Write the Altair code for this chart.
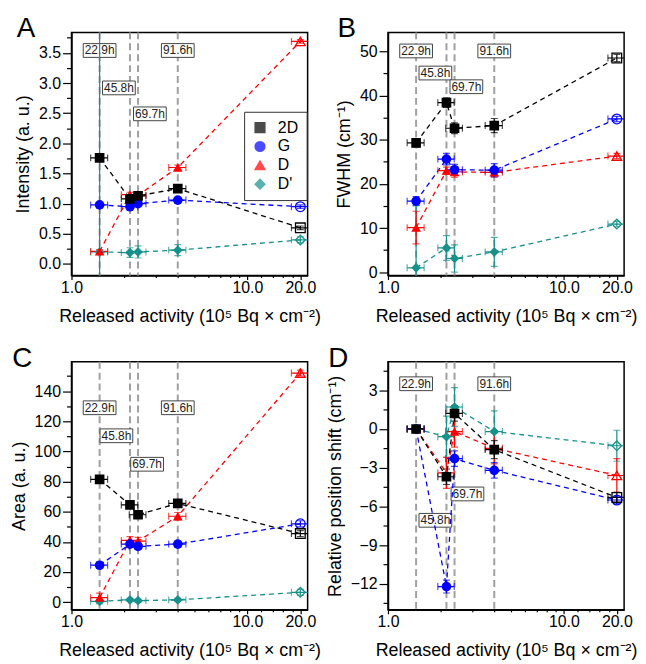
import altair as alt
import pandas as pd

# ---------------- data ----------------
series_names = ["2D", "G", "D", "D'"]
series_colors = ["#000000", "#0000ff", "#ff0000", "#17918c"]
series_shapes = ["square", "circle", "triangle-up", "diamond"]

activity = [1.445, 2.15, 2.39, 4.02, 20.0]          # 10^5 Bq/cm2
activity_err = [0.16, 0.23, 0.26, 0.45, 2.2]
open_marker = [False, False, False, False, True]

line_positions = [1.445, 2.15, 2.39, 4.02]
line_labels = ["22.9h", "45.8h", "69.7h", "91.6h"]

# Panel A: intensity
intensity = {"2D": [1.76, 1.08, 1.13, 1.25, 0.60],
             "G": [0.98, 0.95, 1.00, 1.06, 0.95],
             "D": [0.21, 1.15, 1.14, 1.60, 3.69],
             "D'": [0.20, 0.19, 0.20, 0.23, 0.40]}
intensity_err = {"2D": [0.03, 0.04, 0.03, 0.03, 0.03],
                 "G": [0.02, 0.03, 0.03, 0.03, 0.03],
                 "D": [0.03, 0.04, 0.03, 0.04, 0.03],
                 "D'": [5.0, 0.08, 0.10, 0.09, 0.05]}
intensity_label_x = [1.445, 1.86, 2.79, 4.02]
intensity_label_y = [3.54, 2.92, 2.49, 3.54]

# Panel B: FWHM
fwhm = {"2D": [29.3, 38.4, 32.6, 33.2, 48.5],
        "G": [16.1, 25.6, 23.2, 23.1, 34.7],
        "D": [10.1, 23.0, 22.7, 22.6, 26.3],
        "D'": [1.0, 5.5, 3.1, 4.6, 10.9]}
fwhm_err = {"2D": [0.9, 1.1, 1.2, 1.6, 0.8],
            "G": [1.0, 1.3, 1.2, 1.5, 0.6],
            "D": [3.7, 0.8, 1.2, 1.0, 0.6],
            "D'": [14.0, 2.8, 3.1, 3.3, 0.6]}
fwhm_label_x = [1.445, 1.86, 2.79, 4.02]
fwhm_label_y = [50.1, 45.1, 42.0, 50.1]

# Panel C: area
area = {"2D": [81.5, 64.5, 58.0, 65.5, 45.5],
        "G": [24.5, 38.5, 37.0, 38.5, 52.0],
        "D": [3.0, 41.0, 40.5, 57.0, 152.0],
        "D'": [0.5, 1.5, 1.0, 1.5, 6.5]}
area_err = {"2D": [2.0, 2.0, 2.0, 2.0, 2.0],
            "G": [2.0, 2.0, 2.0, 2.0, 2.0],
            "D": [3.0, 2.5, 2.5, 2.5, 2.0],
            "D'": [1.5, 1.0, 1.0, 1.0, 2.0]}
area_label_x = [1.445, 1.80, 2.69, 4.02]
area_label_y = [129.0, 110.4, 91.5, 129.0]

# Panel D: relative position shift
shift = {"2D": [0.0, -3.7, 1.2, -1.6, -5.3],
         "G": [0.0, -12.2, -2.3, -3.2, -5.5],
         "D": [0.0, -3.4, -0.2, -1.5, -3.6],
         "D'": [0.0, -0.6, 1.7, -0.2, -1.3]}
shift_err = {"2D": [0.2, 0.6, 0.6, 0.7, 0.4],
             "G": [0.1, 0.5, 0.6, 0.6, 0.3],
             "D": [0.1, 1.2, 1.2, 1.2, 1.3],
             "D'": [0.1, 1.6, 1.5, 1.6, 1.2]}
shift_label_x = [1.445, 1.86, 2.83, 4.02]
shift_label_y = [3.5, -7.07, -5.03, 3.5]

FONT = "Liberation Sans"
X_TITLE = "Released activity (10\u2075 Bq \u00d7 cm\u207b\u00b2)"
XSCALE = alt.Scale(type="log", domain=[1, 22], nice=False)
X_TICKS = [1, 2, 3, 4, 5, 6, 7, 8, 9, 10, 12, 14, 16, 18, 20]
X_MAJOR_TEST = "indexof([1,10,20], datum.value) >= 0"
BOX_SHAPE = "M-1,-0.42L1,-0.42L1,0.42L-1,0.42Z"


def cond(test, a, b):
    return {"condition": {"test": test, "value": a}, "value": b}


def make_panel(letter, vals, errs, ytitle, ydomain, yticks, major, fmt,
               lab_x, lab_y, width, height, legend=False):
    rows = []
    for s in reversed(series_names):          # 2D drawn last (on top)
        for i in range(len(activity)):
            x = activity[i]
            xe = activity_err[i]
            y = vals[s][i]
            ye = errs[s][i]
            rows.append(dict(series=s, x=x, xlo=x - xe, xhi=x + xe, y=y,
                             ylo=y - ye, yhi=y + ye, open=open_marker[i], order=i))
    df = pd.DataFrame(rows)
    vdf = pd.DataFrame({"x": line_positions})
    ldf = pd.DataFrame({"x": lab_x, "y": lab_y, "text": line_labels})

    y_major_test = f"abs(datum.value % {major}) < 1e-9"
    xaxis = alt.Axis(title=X_TITLE, values=X_TICKS, labelOverlap=False,
                     labelExpr=f"{X_MAJOR_TEST} ? format(datum.value, '.1f') : ''",
                     labelFontSize=cond(X_MAJOR_TEST, 16, 0),
                     tickSize=cond(X_MAJOR_TEST, 4, 2), labelPadding=0, titlePadding=12)
    yaxis = alt.Axis(title=ytitle, values=yticks, labelOverlap=False,
                     labelExpr=f"{y_major_test} ? format(datum.value, '{fmt}') : ''",
                     labelFontSize=cond(y_major_test, 16, 0),
                     tickSize=cond(y_major_test, 9, 5), labelPadding=2, titlePadding=6)
    yscale = alt.Scale(domain=ydomain, nice=False, zero=False)
    cscale = alt.Scale(domain=series_names, range=series_colors)
    sscale = alt.Scale(domain=series_names, range=series_shapes)

    X = lambda f: alt.X(f, scale=XSCALE, axis=xaxis)
    Y = lambda f: alt.Y(f, scale=yscale, axis=yaxis)

    if legend:
        leg = alt.Legend(orient="none", legendX=174, legendY=80, title=None,
                         strokeColor="#333333", fillColor="white", padding=8,
                         labelFontSize=16, labelFont=FONT, symbolSize=95,
                         rowPadding=3, labelOffset=10, labelColor="black")
    else:
        leg = None
    color = alt.Color("series:N", scale=cscale, legend=leg)
    shape = alt.Shape("series:N", scale=sscale, legend=leg)

    base = alt.Chart(df)

    vlines = alt.Chart(vdf).mark_rule(color="#a0a0a0", strokeWidth=2, strokeDash=[7, 4]).encode(
        x=X("x:Q"))

    boxes = alt.Chart(ldf).mark_point(shape=BOX_SHAPE, size=33 * 33, filled=True, fill="white",
                                      stroke="#444444", strokeWidth=1, opacity=1).encode(
        x=X("x:Q"), y=Y("y:Q"))
    texts = alt.Chart(ldf).mark_text(fontSize=12, font=FONT, color="#222222").encode(
        x=X("x:Q"), y=Y("y:Q"), text="text:N")

    lines = base.mark_line(strokeDash=[5, 4], strokeWidth=1.3, clip=True).encode(
        x=X("x:Q"), y=Y("y:Q"), color=color, detail="series:N", order="order:Q")

    xerr = base.mark_rule(strokeWidth=1.2, clip=True).encode(
        x=X("xlo:Q"), x2="xhi:Q", y=Y("y:Q"), color=color)
    xcap_lo = base.mark_tick(orient="vertical", size=7, thickness=1.2, clip=True).encode(
        x=X("xlo:Q"), y=Y("y:Q"), color=color)
    xcap_hi = base.mark_tick(orient="vertical", size=7, thickness=1.2, clip=True).encode(
        x=X("xhi:Q"), y=Y("y:Q"), color=color)
    yerr = base.mark_rule(strokeWidth=1.2, clip=True).encode(
        x=X("x:Q"), y=Y("ylo:Q"), y2="yhi:Q", color=color)
    ycap_lo = base.mark_tick(orient="horizontal", size=7, thickness=1.2, clip=True).encode(
        x=X("x:Q"), y=Y("ylo:Q"), color=color)
    ycap_hi = base.mark_tick(orient="horizontal", size=7, thickness=1.2, clip=True).encode(
        x=X("x:Q"), y=Y("yhi:Q"), color=color)

    filled_pts = base.transform_filter("!datum.open").mark_point(
        filled=True, size=95, opacity=1, clip=True).encode(
        x=X("x:Q"), y=Y("y:Q"), color=color, shape=shape)
    open_pts = base.transform_filter("datum.open").mark_point(
        filled=False, size=95, strokeWidth=1.3, opacity=1, clip=True).encode(
        x=X("x:Q"), y=Y("y:Q"), color=color, shape=shape)

    return alt.layer(vlines, boxes, texts, lines, xerr, xcap_lo, xcap_hi, yerr, ycap_lo, ycap_hi,
                     open_pts, filled_pts).properties(
        width=width, height=height,
        title=alt.TitleParams(text=letter, anchor="start", frame="bounds", fontSize=28,
                              fontWeight="normal", font=FONT, offset=-12, dx=2, color="black"))


pA = make_panel("A", intensity, intensity_err, "Intensity (a. u.)", [-0.19, 3.84],
                [i * 0.25 for i in range(16)], 0.5, ".1f",
                intensity_label_x, intensity_label_y, 238, 245, legend=True)
pB = make_panel("B", fwhm, fwhm_err, "FWHM (cm\u207b\u00b9)", [-0.74, 54.3],
                [i * 5 for i in range(11)], 10, "d",
                fwhm_label_x, fwhm_label_y, 238, 245)
pC = make_panel("C", area, area_err, "Area (a. u.)", [-5.1, 159.5],
                [i * 10 for i in range(16)], 20, "d",
                area_label_x, area_label_y, 238, 250)
pD = make_panel("D", shift, shift_err, "Relative position shift (cm\u207b\u00b9)", [-14.0, 5.2],
                [-13.5 + i * 1.5 for i in range(13)], 3, "d",
                shift_label_x, shift_label_y, 238, 250)

chart = alt.concat(pA, pB, pC, pD, columns=2, spacing={"row": 18, "column": 4}).resolve_scale(
    color="independent", shape="independent", x="independent", y="independent"
).properties(
    padding={"top": 4, "left": 1, "right": 0, "bottom": 0}
).configure_view(stroke="black", strokeWidth=1.5).configure_axis(
    grid=False, labelFont=FONT, titleFont=FONT, titleFontSize=18,
    titleFontWeight="normal", labelColor="black", titleColor="black",
    domainColor="black", domainWidth=1.5, tickColor="black", tickWidth=1.2,
    labelFlush=False
)

chart.save("out.html", embed_options={"renderer": "svg", "actions": False})
